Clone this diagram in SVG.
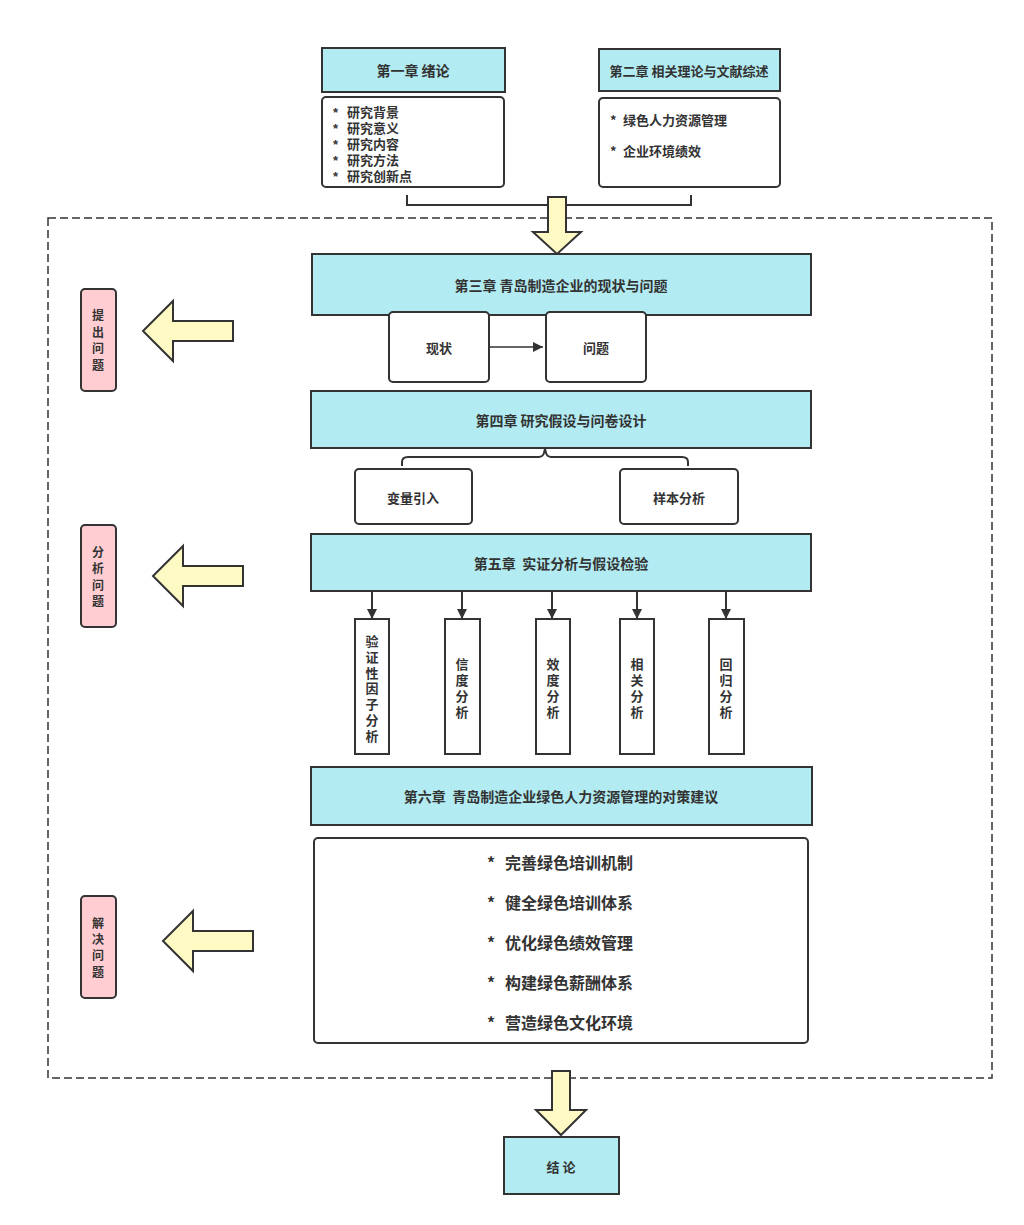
<svg xmlns="http://www.w3.org/2000/svg" width="1024" height="1225" viewBox="0 0 1024 1225">
<defs>
<style>
.hdr{fill:#b2ebf2;stroke:#333;stroke-width:2}
.box{fill:#fff;stroke:#333;stroke-width:2}
.pink{fill:#ffcdd2;stroke:#333;stroke-width:2}
.yarrow{fill:#fff9c4;stroke:#333;stroke-width:2;stroke-linejoin:miter}
.line{fill:none;stroke:#333;stroke-width:2}
text{font-family:"Noto Sans CJK SC","Noto Sans",sans-serif;font-weight:bold;fill:#333}
.tight{font-family:"Liberation Sans","Noto Sans CJK SC",sans-serif}
.t14{font-size:14px}
.t13{font-size:13px}
.t12{font-size:12px}
.t16{font-size:16px}
.c{text-anchor:middle;dominant-baseline:central}
.l{dominant-baseline:central}
</style>
<marker id="ah" viewBox="0 0 10 10" refX="10" refY="5" markerWidth="10" markerHeight="10" markerUnits="userSpaceOnUse" orient="auto">
<path d="M0,0 L10,5 L0,10 z" fill="#333"/>
</marker>
</defs>
<rect width="1024" height="1225" fill="#fff"/>

<rect id="frame" x="48" y="218" width="944" height="860" fill="none" stroke="#333" stroke-width="1.5" stroke-dasharray="8,4"/>

<g id="connectors">
<path class="line" d="M407,195 V205 H691 V195"/>
<polygon class="yarrow" points="548,197 566,197 566,232 581,232 557,254 533,232 548,232"/>
<line x1="489" y1="347" x2="543" y2="347" stroke="#333" stroke-width="1.5" marker-end="url(#ah)"/>
<path class="line" d="M402,466 V462 Q402,457 408,457 H539 Q545,457 545,446 Q545,457 551,457 H682 Q688,457 688,462 V466"/>
<line x1="372" y1="591" x2="372" y2="619" stroke="#333" stroke-width="2" marker-end="url(#ah)"/>
<line x1="462" y1="591" x2="462" y2="619" stroke="#333" stroke-width="2" marker-end="url(#ah)"/>
<line x1="552" y1="591" x2="552" y2="619" stroke="#333" stroke-width="2" marker-end="url(#ah)"/>
<line x1="637" y1="591" x2="637" y2="619" stroke="#333" stroke-width="2" marker-end="url(#ah)"/>
<line x1="726" y1="591" x2="726" y2="619" stroke="#333" stroke-width="2" marker-end="url(#ah)"/>
<polygon class="yarrow" points="233,321 233,341 173,341 173,361 143,331 173,301 173,321"/>
<polygon class="yarrow" points="243,566 243,586 183,586 183,606 153,576 183,546 183,566"/>
<polygon class="yarrow" points="253,931 253,951 193,951 193,971 163,941 193,911 193,931"/>
<polygon class="yarrow" points="552,1071 570,1071 570,1110 586,1110 561,1135 536,1110 552,1110"/>
</g>

<g id="ch1">
<rect class="hdr" x="322" y="48" width="183" height="44"/>
<text class="t14 c" x="413" y="70">第一章 绪论</text>
</g>
<g id="ch1-content">
<rect class="box" x="322" y="97" width="182" height="90" rx="4"/>
<text class="t13 l tight"><tspan x="333" y="112">*</tspan><tspan x="347" y="112">研究背景</tspan><tspan x="333" y="128">*</tspan><tspan x="347" y="128">研究意义</tspan><tspan x="333" y="144">*</tspan><tspan x="347" y="144">研究内容</tspan><tspan x="333" y="160">*</tspan><tspan x="347" y="160">研究方法</tspan><tspan x="333" y="176">*</tspan><tspan x="347" y="176">研究创新点</tspan></text>
</g>
<g id="ch2">
<rect class="hdr" x="599" y="49" width="181" height="42"/>
<text class="t13 c" x="689" y="70">第二章 相关理论与文献综述</text>
</g>
<g id="ch2-content">
<rect class="box" x="599" y="98" width="181" height="89" rx="4"/>
<text class="t13 l" x="610" y="119">*</text><text class="t13 l" x="623" y="119">绿色人力资源管理</text>
<text class="t13 l" x="610" y="150">*</text><text class="t13 l" x="623" y="150">企业环境绩效</text>
</g>

<g id="ch3">
<rect class="hdr" x="312" y="254" width="499" height="61"/>
<text class="t14 c" x="561" y="285">第三章 青岛制造企业的现状与问题</text>
</g>
<g id="status">
<rect class="box" x="389" y="312" width="100" height="70" rx="4"/>
<text class="t13 c" x="439" y="347">现状</text>
</g>
<g id="problem">
<rect class="box" x="546" y="312" width="100" height="70" rx="4"/>
<text class="t13 c" x="596" y="347">问题</text>
</g>

<g id="ch4">
<rect class="hdr" x="311" y="391" width="500" height="57"/>
<text class="t14 c" x="561" y="420">第四章 研究假设与问卷设计</text>
</g>
<g id="var">
<rect class="box" x="355" y="469" width="117" height="55" rx="4"/>
<text class="t13 c" x="413" y="497">变量引入</text>
</g>
<g id="sample">
<rect class="box" x="620" y="469" width="118" height="55" rx="4"/>
<text class="t13 c" x="679" y="497">样本分析</text>
</g>

<g id="ch5">
<rect class="hdr" x="311" y="534" width="500" height="57"/>
<text class="t14 c" x="561" y="563">第五章&#160;&#160;实证分析与假设检验</text>
</g>
<g id="cfa">
<rect class="box" x="355" y="619" width="34" height="135"/>
<text class="t13 c tight"><tspan x="372" y="641">验</tspan><tspan x="372" y="657">证</tspan><tspan x="372" y="673">性</tspan><tspan x="372" y="688">因</tspan><tspan x="372" y="704">子</tspan><tspan x="372" y="720">分</tspan><tspan x="372" y="736">析</tspan></text>
</g>
<g id="rel">
<rect class="box" x="445" y="619" width="35" height="135"/>
<text class="t13 c tight"><tspan x="462" y="664">信</tspan><tspan x="462" y="680">度</tspan><tspan x="462" y="696">分</tspan><tspan x="462" y="712">析</tspan></text>
</g>
<g id="val">
<rect class="box" x="536" y="619" width="34" height="135"/>
<text class="t13 c tight"><tspan x="553" y="664">效</tspan><tspan x="553" y="680">度</tspan><tspan x="553" y="696">分</tspan><tspan x="553" y="712">析</tspan></text>
</g>
<g id="cor">
<rect class="box" x="620" y="619" width="34" height="135"/>
<text class="t13 c tight"><tspan x="637" y="664">相</tspan><tspan x="637" y="680">关</tspan><tspan x="637" y="696">分</tspan><tspan x="637" y="712">析</tspan></text>
</g>
<g id="reg">
<rect class="box" x="709" y="619" width="35" height="135"/>
<text class="t13 c tight"><tspan x="726" y="664">回</tspan><tspan x="726" y="680">归</tspan><tspan x="726" y="696">分</tspan><tspan x="726" y="712">析</tspan></text>
</g>

<g id="ch6">
<rect class="hdr" x="311" y="767" width="501" height="58"/>
<text class="t14 c" x="561" y="796">第六章&#160;&#160;青岛制造企业绿色人力资源管理的对策建议</text>
</g>
<g id="ch6-content">
<rect class="box" x="314" y="838" width="494" height="205" rx="4"/>
<text class="t16 l" x="487" y="862">*</text><text class="t16 l" x="505" y="862">完善绿色培训机制</text>
<text class="t16 l" x="487" y="902">*</text><text class="t16 l" x="505" y="902">健全绿色培训体系</text>
<text class="t16 l" x="487" y="942">*</text><text class="t16 l" x="505" y="942">优化绿色绩效管理</text>
<text class="t16 l" x="487" y="982">*</text><text class="t16 l" x="505" y="982">构建绿色薪酬体系</text>
<text class="t16 l" x="487" y="1022">*</text><text class="t16 l" x="505" y="1022">营造绿色文化环境</text>
</g>

<g id="raise">
<rect class="pink" x="81" y="289" width="35" height="102" rx="4"/>
<text class="t12 c tight"><tspan x="98" y="316">提</tspan><tspan x="98" y="333">出</tspan><tspan x="98" y="349">问</tspan><tspan x="98" y="366">题</tspan></text>
</g>
<g id="analyze">
<rect class="pink" x="81" y="525" width="35" height="102" rx="4"/>
<text class="t12 c tight"><tspan x="98" y="553">分</tspan><tspan x="98" y="569">析</tspan><tspan x="98" y="586">问</tspan><tspan x="98" y="602">题</tspan></text>
</g>
<g id="solve">
<rect class="pink" x="81" y="896" width="35" height="102" rx="4"/>
<text class="t12 c tight"><tspan x="98" y="924">解</tspan><tspan x="98" y="940">决</tspan><tspan x="98" y="956">问</tspan><tspan x="98" y="973">题</tspan></text>
</g>

<g id="conclusion">
<rect class="hdr" x="504" y="1137" width="115" height="57"/>
<text class="t13 c" x="561" y="1166">结 论</text>
</g>
</svg>
